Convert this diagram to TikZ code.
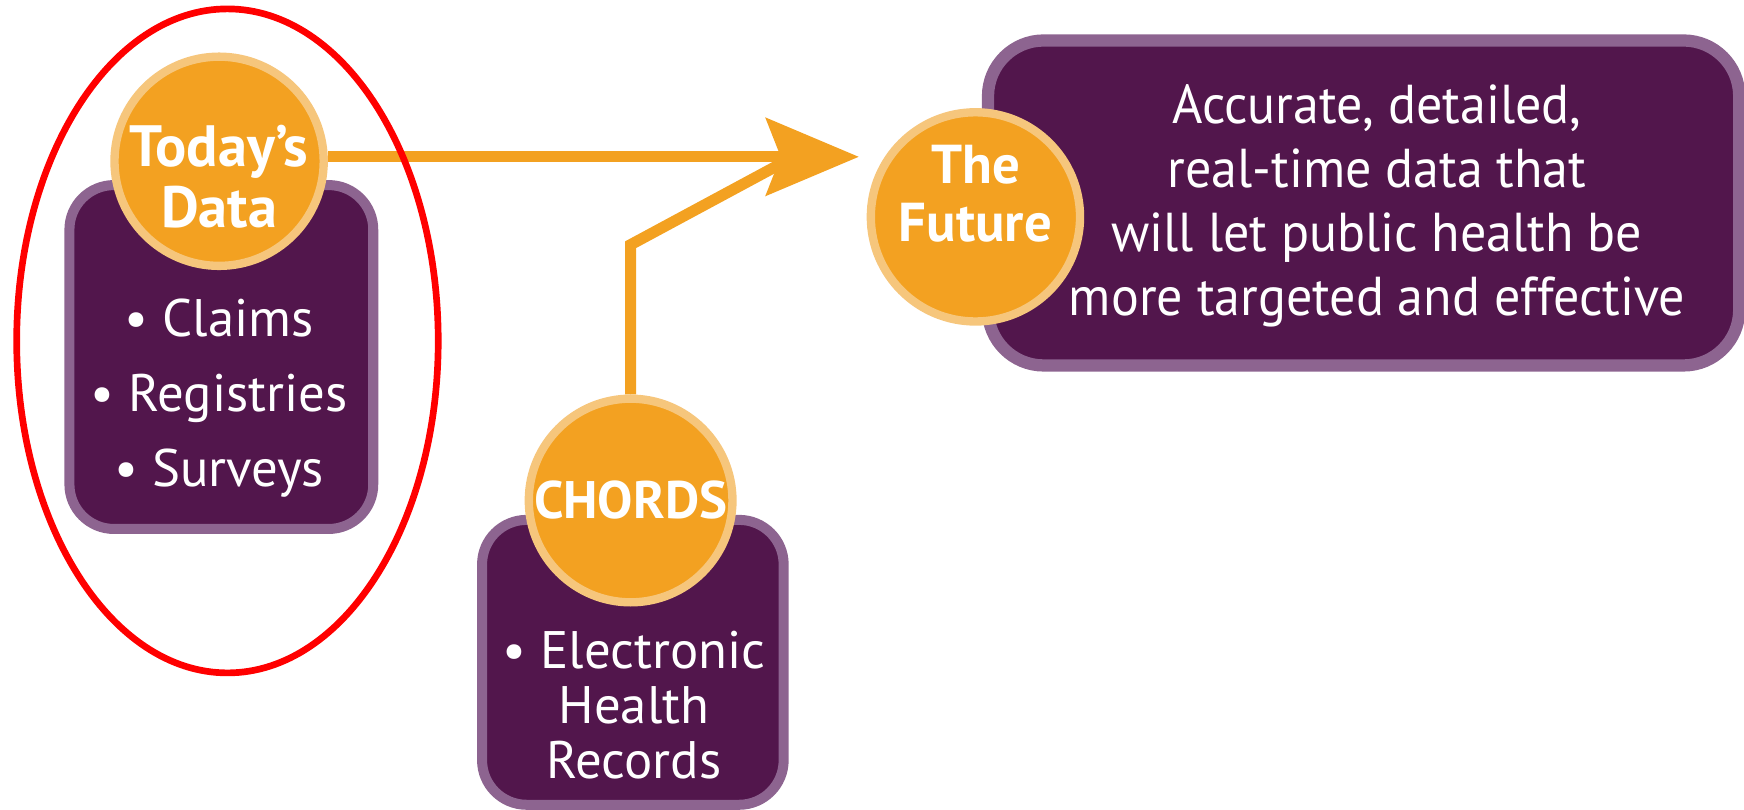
\documentclass[tikz,border=0pt]{standalone}
\usepackage{fontspec}
\setmainfont{PT Sans}
\newfontfamily\condfont[FakeStretch=0.95]{PT Sans}
\usetikzlibrary{arrows.meta}
\definecolor{chordorange}{HTML}{F3A121}
\definecolor{ringorange}{HTML}{F6C67C}
\definecolor{boxpurple}{HTML}{52164C}
\definecolor{rimpurple}{HTML}{8D6490}

\begin{document}
\begin{tikzpicture}[x=0.01cm,y=-0.01cm,
	databox/.style={rectangle,draw=rimpurple,fill=boxpurple,line width=0.09cm,rounded corners=0.4cm,inner sep=0pt},
	stage/.style={circle,draw=ringorange,fill=chordorange,line width=0.075cm,minimum size=1.88cm,inner sep=0pt},
	stagetext/.style={text=white,align=center,inner sep=0pt,font=\bfseries\fontsize{14.9}{15.4}\selectfont},
	boxtext/.style={text=white,align=center,inner sep=0pt,font=\fontsize{13.5}{19.2}\selectfont},
	flow/.style={draw=chordorange,line width=0.1cm},
	redmark/.style={draw=red,line width=0.06cm}]
	
	\useasboundingbox (0,0) rectangle (1568,728);
	
	\node[databox,minimum width=2.73cm,minimum height=3.09cm] (todaybox) at (199,321) {};
	\node[databox,minimum width=6.75cm,minimum height=2.92cm,rounded corners=0.5cm,line width=0.11cm] (futurebox) at (1226,182.5) {};
	\node[databox,minimum width=2.71cm,minimum height=2.56cm] (chordsbox) at (569,595.5) {};
	
	\node[boxtext] (todaylist) at (197,358) {\textbullet\ Claims\\\textbullet\ Registries\\\textbullet\ Surveys};
	\node[boxtext,font=\condfont\fontsize{14}{16.4}\selectfont] (futuretext) at (1238,185) {Accurate, detailed,\\real-time data that\\will let public health be\\more targeted and effective};
	\node[boxtext,font=\fontsize{13.5}{14}\selectfont] (chordslist) at (570,634) {\textbullet\ Electronic\\Health\\Records};
	
	\node[stage] (today) at (197,145) {};
	\node[stage] (future) at (877,195) {};
	\node[stage,minimum size=1.83cm] (chords) at (567,450) {};
	\node[stagetext] (todaytext) at (197,159) {Today's\\Data};
	\node[stagetext,font=\bfseries\fontsize{14}{14.8}\selectfont] (futuretext2) at (877,174) {The\\Future};
	\node[stagetext,font=\bfseries\fontsize{13.5}{15}\selectfont] (chordstext) at (567,450) {CHORDS};
	
	\coordinate (tip) at (772,141);
	\coordinate (bend) at (567,220);
	\coordinate (notch) at (710,143);
	\draw[flow] (chords.north) -- (bend) -- (notch);
	\draw[flow,-{Stealth[length=0.84cm,width=0.71cm,inset=0.14cm,line width=0pt]}] (today.east |- tip) -- (tip);
	
	\draw[redmark] (204.5,306.5) ellipse [x radius=189.5,y radius=298.5];
\end{tikzpicture}
\end{document}
